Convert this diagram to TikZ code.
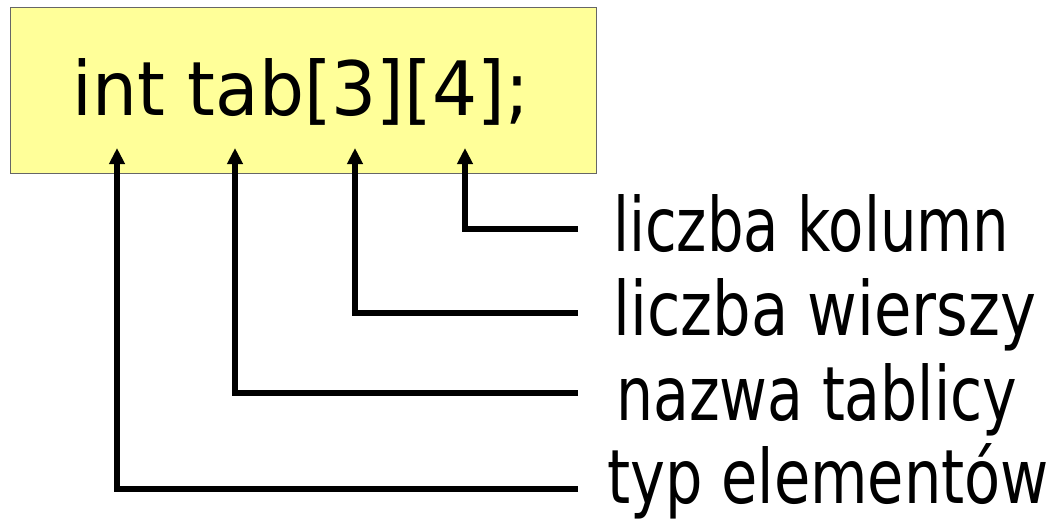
\documentclass[tikz,border=0pt]{standalone}
\usepackage{fontspec}
\usepackage{graphicx}
\setmainfont{DejaVu Sans}
\usetikzlibrary{arrows.meta}
\newcommand{\fitw}[2]{\resizebox{#1}{\height}{#2}}
\tikzset{
  lbl/.style={anchor=base west, inner sep=0pt, font=\fontsize{75}{80}\selectfont},
  code/.style={anchor=base, inner sep=0pt, font=\fontsize{75}{80}\selectfont},
  box/.style={draw=black!60, line width=1pt, fill={rgb,255:red,255;green,255;blue,153}},
  pointer/.style={line width=5.5pt, -{Triangle[length=16pt,width=15pt]}}
}
\begin{document}
\begin{tikzpicture}[x=1pt,y=-1pt]
\useasboundingbox (0,0) rectangle (1052,523);
\node[box, minimum width=586pt, minimum height=166pt, anchor=north west] (b) at (10,7) {};
\node[code] (c) at (301,115) {\fitw{456pt}{int tab[3][4];}};
\node[lbl] (l1) at (613,251) {\fitw{396pt}{liczba kolumn}};
\node[lbl] (l2) at (613,335) {\fitw{423pt}{liczba wierszy}};
\node[lbl] (l3) at (616,420) {\fitw{401pt}{nazwa tablicy}};
\node[lbl] (l4) at (607,503) {\fitw{442pt}{typ elementów}};
\coordinate (t1) at (117,148);
\coordinate (t2) at (235,148);
\coordinate (t3) at (355,148);
\coordinate (t4) at (465,148);
\coordinate (e1) at (578,229);
\coordinate (e2) at (578,313);
\coordinate (e3) at (578,393);
\coordinate (e4) at (578,489);
\draw[pointer] (e1) -| (t4);
\draw[pointer] (e2) -| (t3);
\draw[pointer] (e3) -| (t2);
\draw[pointer] (e4) -| (t1);
\end{tikzpicture}
\end{document}
